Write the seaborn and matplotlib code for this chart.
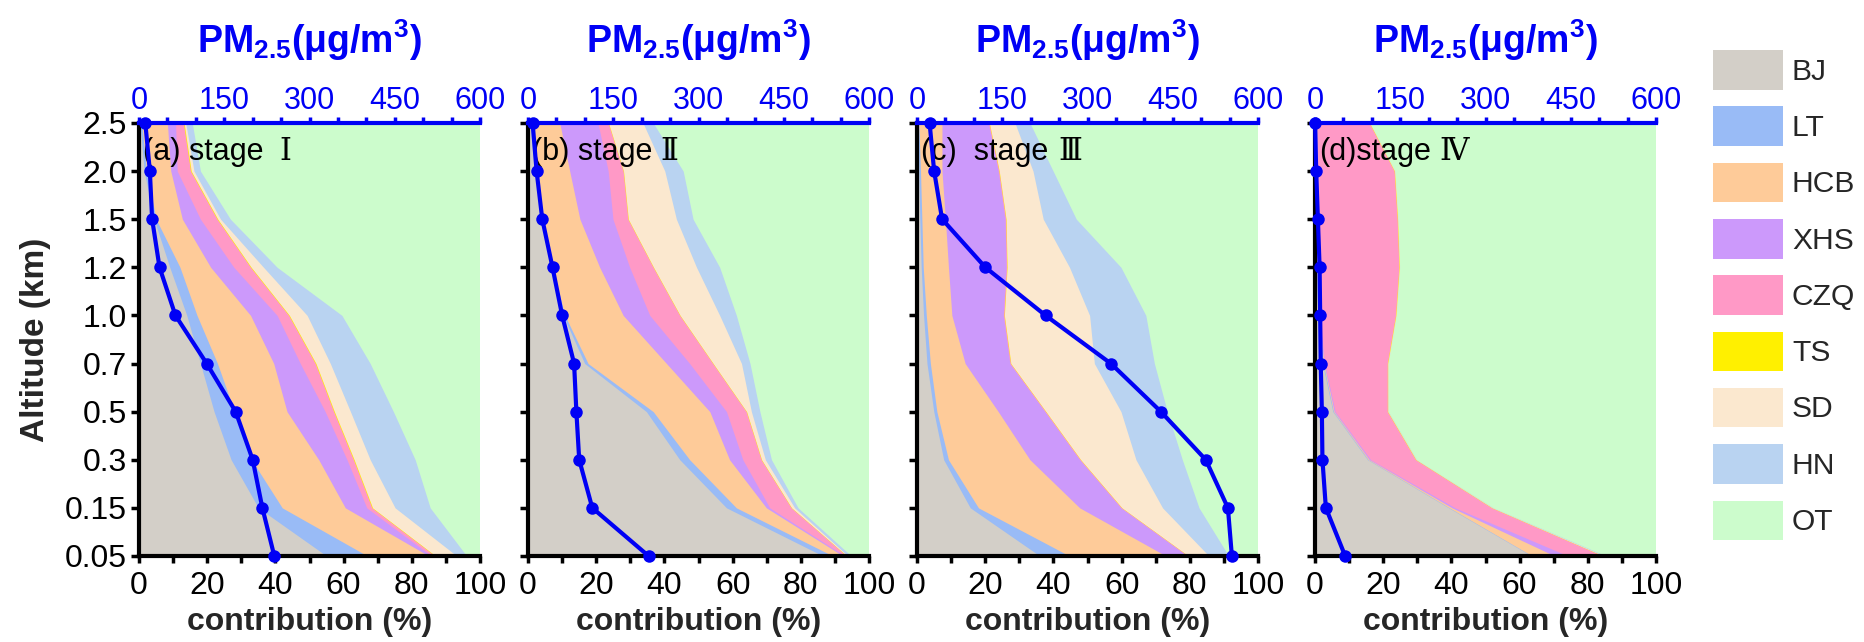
import numpy as np
import matplotlib
matplotlib.use('Agg')
import matplotlib.pyplot as plt
from matplotlib.patches import Patch
from matplotlib.ticker import MultipleLocator
import seaborn as sns

# altitude levels (km), bottom -> top
altitudes = ['0.05', '0.15', '0.3', '0.5', '0.7', '1.0', '1.2', '1.5', '2.0', '2.5']

sources = ['BJ', 'LT', 'HCB', 'XHS', 'CZQ', 'TS', 'SD', 'HN', 'OT']
source_colors = ['#d3cfc8', '#99bbf6', '#fecb99', '#cc99fb', '#ff99c6',
                 '#fff000', '#fbe8cf', '#b9d3f1', '#ccfccc']

# contribution (%) of each source (rows follow `sources`, columns follow `altitudes`)
share_stage1 = [
    [55, 35, 27, 22, 18, 14, 9, 4.4, 1.5, 0.3],
    [12, 7, 6, 6, 5, 3, 3, 0.6, 0.7, 0.5],
    [18, 18.5, 19.7, 15.4, 16.5, 15.7, 9, 7.7, 7.1, 7.5],
    [0.8, 6.3, 8.3, 11.2, 7.8, 7.8, 6.8, 5.3, 1.9, 2.4],
    [1.0, 1.5, 1.9, 2.5, 4.4, 3.4, 4.9, 4.9, 3.9, 2.3],
    [0.2, 0.2, 0.2, 0.2, 0.2, 0.2, 0.2, 0.2, 0.2, 0.2],
    [6.2, 6.6, 4.7, 4.7, 4.2, 5.2, 3.6, 0.8, 0.8, 0.5],
    [2.9, 10.3, 13.2, 12.6, 11.7, 10.2, 4.0, 2.9, 1.9, 1.9],
    [3.9, 14.6, 19.0, 25.4, 32.2, 40.5, 59.5, 73.2, 82.0, 84.4],
]
share_stage2 = [
    [86.5, 58.2, 44.5, 34.7, 16.6, 10.3, 6.8, 3.9, 2.0, 0.5],
    [2.9, 2.9, 2.9, 2.0, 1.0, 0.5, 0.3, 0.3, 0.3, 0.3],
    [3.0, 8.8, 11.7, 16.6, 23.0, 17.1, 13.9, 11.0, 9.9, 8.5],
    [0.5, 1.0, 3.9, 4.9, 6.8, 7.8, 8.8, 9.7, 11.3, 11.2],
    [0.5, 6.3, 5.4, 5.8, 6.8, 8.8, 6.9, 4.4, 4.4, 3.0],
    [0.1, 0.1, 0.1, 0.1, 0.1, 0.1, 0.1, 0.1, 0.1, 0.1],
    [0.3, 0.9, 1.1, 1.4, 8.3, 11.6, 12.6, 14.1, 12.1, 10.1],
    [1.0, 1.0, 1.8, 2.5, 2.5, 4.9, 6.8, 4.9, 5.4, 3.0],
    [5.2, 20.8, 28.6, 32.0, 34.9, 38.9, 43.8, 51.6, 54.5, 63.3],
]
share_stage3 = [
    [36, 15.6, 7.8, 4.9, 2.9, 1.9, 1.2, 0.8, 0.5, 0.2],
    [8.7, 2.4, 1.4, 0.9, 1.0, 0.8, 0.6, 0.6, 0.5, 0.3],
    [28.3, 29.7, 23.9, 18.0, 10.2, 7.5, 7.4, 6.9, 6.3, 6.8],
    [6.3, 12.1, 14.6, 13.7, 13.1, 15.1, 16.9, 17.5, 16.5, 13.6],
    [0.2, 0.2, 0.2, 0.2, 0.2, 0.2, 0.2, 0.2, 0.2, 0.2],
    [0.1, 0.1, 0.1, 0.1, 0.1, 0.1, 0.1, 0.1, 0.1, 0.1],
    [6.0, 11.9, 16.2, 22.0, 24.5, 25.0, 18.3, 10.9, 9.9, 7.5],
    [5.8, 10.7, 13.6, 13.6, 17.6, 16.5, 15.1, 9.7, 5.9, 4.4],
    [8.6, 17.3, 22.2, 26.6, 30.4, 32.9, 40.2, 53.3, 60.1, 66.9],
]
share_stage4 = [
    [63.5, 39.2, 15.4, 5.2, 2.2, 0.8, 0.4, 0.3, 0.3, 0.2],
    [0.2, 0.2, 0.2, 0.2, 0.2, 0.1, 0.1, 0.1, 0.1, 0.1],
    [6.6, 0.8, 0.3, 0.2, 0.2, 0.2, 0.2, 0.2, 0.2, 0.2],
    [3.9, 0.9, 0.4, 0.3, 0.2, 0.2, 0.2, 0.2, 0.2, 0.1],
    [10.2, 10.7, 13.2, 15.3, 18.4, 22.3, 23.7, 23.3, 22.4, 15.3],
    [0.1, 0.1, 0.1, 0.1, 0.1, 0.1, 0.1, 0.1, 0.1, 0.1],
    [0.4, 0.2, 0.1, 0.1, 0.1, 0.1, 0.1, 0.1, 0.1, 0.1],
    [0.5, 0.2, 0.1, 0.1, 0.0, 0.0, 0.0, 0.0, 0.0, 0.0],
    [14.6, 47.7, 70.2, 78.5, 78.6, 76.2, 75.2, 75.7, 76.6, 83.9],
]

# PM2.5 concentration (ug/m3) per altitude
pm_stage1 = [238, 217, 200, 170, 119, 64, 36, 23, 19, 11]
pm_stage2 = [212, 113, 90, 85, 81, 60, 43, 25, 15, 8]
pm_stage3 = [554, 547, 508, 429, 341, 226, 120, 44, 30, 22]
pm_stage4 = [53, 19, 13, 12, 10, 9, 8, 5, 2, 0]

panel_prefix = ['(a) stage', '(b) stage', '(c)  stage', '(d)stage']
panel_numeral = ['Ⅰ', 'Ⅱ', 'Ⅲ', 'Ⅳ']
numeral_gap = [11, 6, 7, 6]  # points between "stage" and the numeral

shares = [share_stage1, share_stage2, share_stage3, share_stage4]
pms = [pm_stage1, pm_stage2, pm_stage3, pm_stage4]

sns.set_theme(style='ticks')
plt.rcParams['font.family'] = ['Liberation Sans', 'Noto Sans CJK SC', 'DejaVu Sans']
plt.rcParams['mathtext.fontset'] = 'custom'
plt.rcParams['mathtext.rm'] = 'Liberation Sans'
plt.rcParams['mathtext.bf'] = 'Liberation Sans:bold'

fig = plt.figure(figsize=(18.64, 6.42), dpi=100)
lefts = [0.0746, 0.2833, 0.4920, 0.7055]
y = np.arange(len(altitudes))
line_blue = '#0000f5'

for i in range(4):
    ax = fig.add_axes([lefts[i], 0.134, 0.1829, 0.6745])
    cum = np.cumsum(np.array(shares[i], dtype=float), axis=0)
    # draw from the outermost layer inwards so there are no seams between bands
    for k in reversed(range(len(sources))):
        ax.fill_betweenx(y, 0, cum[k], color=source_colors[k], linewidth=0, zorder=1)

    ax.set_xlim(0, 100)
    ax.set_ylim(y[0], y[-1])
    ax.xaxis.set_major_locator(MultipleLocator(20))
    ax.xaxis.set_minor_locator(MultipleLocator(10))
    ax.set_yticks(y)
    ax.set_yticklabels(altitudes if i == 0 else [])
    ax.tick_params(axis='x', which='both', direction='out', length=5, width=2.5,
                   labelsize=23, pad=6, top=False, colors='black')
    ax.tick_params(axis='y', which='both', direction='out', length=6, width=2.5,
                   labelsize=23, pad=3, right=False, colors='black')
    for side in ['top', 'right']:
        ax.spines[side].set_visible(False)
    for side in ['left', 'bottom']:
        ax.spines[side].set_linewidth(3)
        ax.spines[side].set_color('black')
    ax.set_xlabel('contribution (%)', fontsize=23, fontweight='bold', labelpad=4)
    if i == 0:
        ax.set_ylabel('Altitude (km)', fontsize=24, fontweight='bold', labelpad=10)

    # panel tag, the roman numeral in a serif face like the original
    tag = ax.text(0.012, 0.933, panel_prefix[i], transform=ax.transAxes, fontsize=22,
                  ha='left', va='center', color='black', zorder=3)
    ax.annotate(panel_numeral[i], xy=(1, 0.5), xycoords=tag,
                xytext=(numeral_gap[i], 0), textcoords='offset points',
                fontsize=22, ha='left', va='center', color='black', zorder=3,
                family=['DejaVu Serif', 'Noto Sans CJK SC'])

    ax2 = ax.twiny()
    sns.lineplot(x=pms[i], y=y, orient='y', sort=False, ax=ax2, color=line_blue,
                 linewidth=3, marker='o', markersize=9, markeredgewidth=0,
                 clip_on=False, legend=False)
    ax2.set_xlim(0, 600)
    ax2.set_ylim(y[0], y[-1])
    ax2.xaxis.set_major_locator(MultipleLocator(150))
    ax2.xaxis.set_minor_locator(MultipleLocator(50))
    ax2.tick_params(axis='x', which='both', direction='out', length=4, width=2.5,
                    labelsize=22, pad=1, colors=line_blue, bottom=False, top=True)
    for side in ['bottom', 'left', 'right']:
        ax2.spines[side].set_visible(False)
    ax2.spines['top'].set_linewidth(3)
    ax2.spines['top'].set_color(line_blue)
    ax2.set_xlabel(r'PM$_{\mathbf{2.5}}$(μg/m$^{\mathbf{3}}$)', fontsize=27,
                   fontweight='bold', color=line_blue, labelpad=24)
    ax2.set_ylabel('')

handles = [Patch(facecolor=c, edgecolor='none') for c in source_colors]
fig.legend(handles, sources, loc='upper left', bbox_to_anchor=(1713 / 1864, 1 - 50 / 642),
           frameon=False, fontsize=21.6, handlelength=2.33, handleheight=1.65,
           labelspacing=0.56, handletextpad=0.3, borderpad=0, borderaxespad=0)

fig.savefig('out.png', dpi=100)
plt.close(fig)
